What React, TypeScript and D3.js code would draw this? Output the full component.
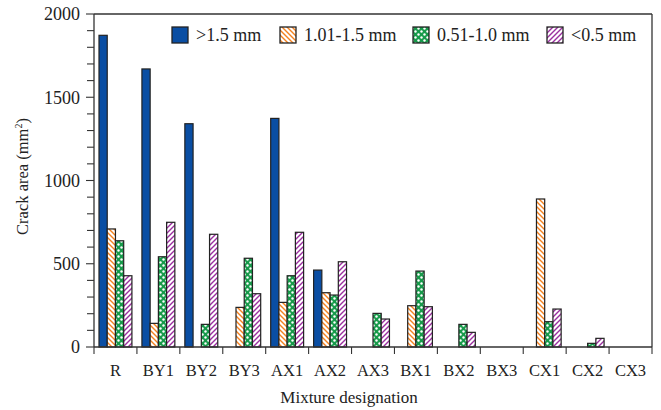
import React from "react";
import * as d3 from "d3";

const categories = ["R", "BY1", "BY2", "BY3", "AX1", "AX2", "AX3", "BX1", "BX2", "BX3", "CX1", "CX2", "CX3"];
const seriesNames = [">1.5 mm", "1.01-1.5 mm", "0.51-1.0 mm", "<0.5 mm"];
const over15 = [1872, 1670, 1341, 0, 1373, 462, 0, 0, 0, 0, 0, 0, 0];
const s101to15 = [709, 142, 0, 238, 268, 326, 0, 248, 0, 0, 889, 0, 0];
const s051to10 = [638, 542, 136, 533, 428, 312, 202, 456, 136, 0, 152, 22, 0];
const under05 = [428, 749, 677, 320, 689, 512, 168, 242, 88, 0, 228, 52, 0];
const yTicks = [0, 500, 1000, 1500, 2000];

const W = 661, H = 410;
const left = 94, right = 652, top = 14, bottom = 347;
const FONT = "'Liberation Serif', 'Times New Roman', Times, serif";

const fills = ["#0a4ea3", "url(#hatchOrange)", "url(#dotsGreen)", "url(#hatchPurple)"];

export default function App() {
  const series = [over15, s101to15, s051to10, under05];
  const x = d3.scaleBand<string>().domain(categories).range([left, right]).padding(0);
  const inner = d3.scaleBand<number>().domain([0, 1, 2, 3]).range([5, x.bandwidth() - 5]).padding(0);
  const y = d3.scaleLinear().domain([0, 2000]).range([bottom, top]);
  const minor = d3.range(0, 2001, 100);
  const boundaries = categories.map((c) => x(c) as number).concat([right]);

  const legendX = [172, 280, 413, 547];

  return (
    <svg width={W} height={H} style={{ position: "absolute", left: 0, top: 0 }} fontFamily={FONT}>
      <defs>
        <pattern id="hatchOrange" width={5} height={5} patternUnits="userSpaceOnUse">
          <rect width={5} height={5} fill="#fff" />
          <path d="M0,0 L5,5 M-1,4 L1,6 M4,-1 L6,1" stroke="#f5821f" strokeWidth={1.4} />
        </pattern>
        <pattern id="hatchPurple" width={5} height={5} patternUnits="userSpaceOnUse">
          <rect width={5} height={5} fill="#fff" />
          <path d="M0,5 L5,0 M-1,1 L1,-1 M4,6 L6,4" stroke="#9b2fa0" strokeWidth={1.4} />
        </pattern>
        <pattern id="dotsGreen" width={6} height={6} patternUnits="userSpaceOnUse">
          <rect width={6} height={6} fill="#179a4a" />
          <circle cx={1.5} cy={1.5} r={1.2} fill="#fff" />
          <circle cx={4.5} cy={4.5} r={1.2} fill="#fff" />
        </pattern>
      </defs>
      <rect x={0} y={0} width={W} height={H} fill="#fff" />

      {/* bars */}
      {series.map((vals, si) =>
        categories.map((c, ci) => {
          const v = vals[ci];
          if (!v) return null;
          const bx = (x(c) as number) + (inner(si) as number);
          return (
            <rect
              key={`${si}-${ci}`}
              x={bx}
              y={y(v)}
              width={inner.bandwidth()}
              height={y(0) - y(v)}
              fill={fills[si]}
              stroke="#222"
              strokeWidth={1.2}
            />
          );
        })
      )}

      {/* frame */}
      <line x1={left} x2={right} y1={top} y2={top} stroke="#333" strokeWidth={1.3} />
      <line x1={right} x2={right} y1={top} y2={bottom} stroke="#333" strokeWidth={1.3} />
      <line x1={left} x2={right} y1={bottom} y2={bottom} stroke="#333" strokeWidth={1.3} />
      <line x1={left} x2={left} y1={top} y2={bottom} stroke="#333" strokeWidth={1.3} />

      {/* y ticks */}
      {minor.map((t) => (
        <line key={t} x1={left - (t % 500 === 0 ? 8 : 7)} x2={left} y1={y(t)} y2={y(t)} stroke="#333" strokeWidth={1.1} />
      ))}
      {yTicks.map((t) => (
        <text key={t} x={80} y={y(t)} dy="0.35em" textAnchor="end" fontSize={18} fill="#222">
          {t}
        </text>
      ))}

      {/* x ticks */}
      {boundaries.map((b, i) => (
        <line key={i} x1={b} x2={b} y1={bottom} y2={bottom + 7} stroke="#333" strokeWidth={1.1} />
      ))}
      {categories.map((c) => (
        <text key={c} x={(x(c) as number) + x.bandwidth() / 2} y={376} textAnchor="middle" fontSize={16.5} fill="#222">
          {c}
        </text>
      ))}

      {/* axis titles */}
      <text x={(left + right) / 2 - 24} y={403} textAnchor="middle" fontSize={17} fill="#222">
        Mixture designation
      </text>
      <text transform={`translate(28, ${(top + bottom) / 2 - 4}) rotate(-90)`} textAnchor="middle" fontSize={16.5} fill="#222">
        Crack area (mm<tspan dy={-6} fontSize={10}>2</tspan><tspan dy={6}>)</tspan>
      </text>

      {/* legend */}
      {seriesNames.map((n, i) => (
        <g key={n}>
          <rect x={legendX[i]} y={27} width={16} height={16} fill={fills[i]} stroke="#222" strokeWidth={1.3} />
          <text x={legendX[i] + 24} y={41} fontSize={18} fill="#222">
            {n}
          </text>
        </g>
      ))}
    </svg>
  );
}
